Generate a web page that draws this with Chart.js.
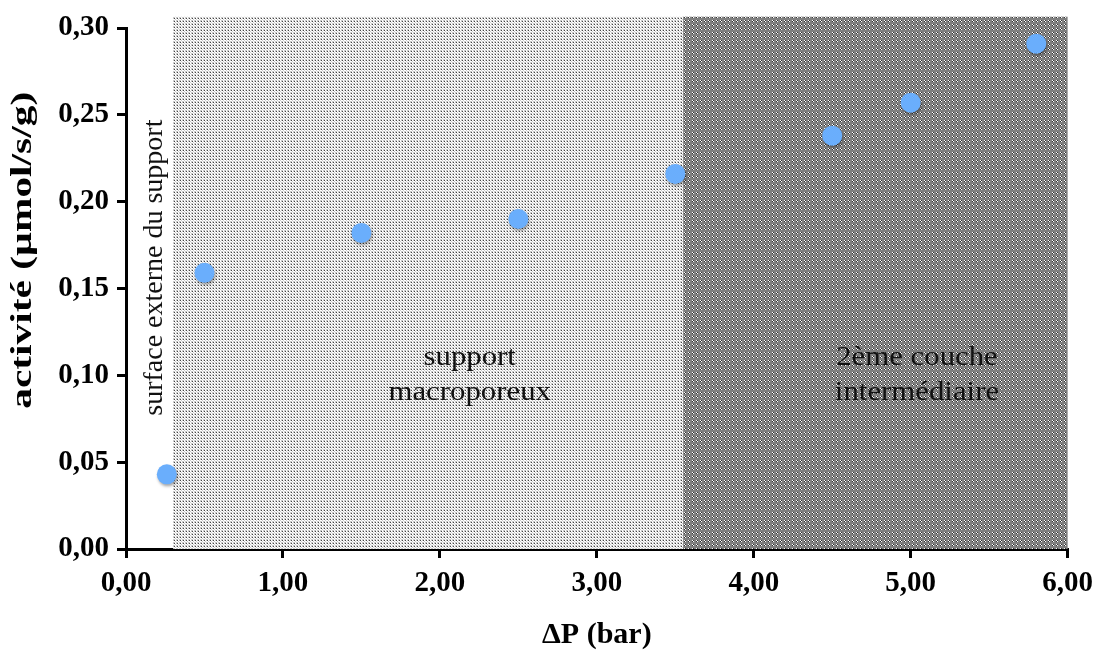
<!DOCTYPE html>
<html>
<head>
<meta charset="utf-8">
<script src="https://cdn.jsdelivr.net/npm/chart.js@4.4.0/dist/chart.umd.min.js"></script>
<style>
  html, body { margin: 0; padding: 0; background: #fff; }
  #wrap { width: 1101px; height: 657px; position: relative; }
</style>
</head>
<body>
<div id="wrap"><canvas id="activityChart"></canvas></div>
<script>
// data
const pressure = [0.26, 0.5, 1.5, 2.5, 3.5, 4.5, 5.0, 5.8];
const activity = [0.043, 0.159, 0.182, 0.190, 0.216, 0.238, 0.257, 0.291];
const xTicks = [0, 1, 2, 3, 4, 5, 6];
const yTicks = [0, 0.05, 0.10, 0.15, 0.20, 0.25, 0.30];

// shaded zones (x range in bar)
const zoneLight = [0.30, 3.55];
const zoneDark = [3.55, 6.0];
const zoneTop = 0.3065;

const yTitle = 'activité (µmol/s/g)';
const fr = v => v.toFixed(2).replace('.', ',');
const SERIF = '"Liberation Serif", "DejaVu Serif", serif';

// dithered fills like the original
function makePattern(size, base, dots) {
    const c = document.createElement('canvas');
    c.width = size; c.height = size;
    const g = c.getContext('2d');
    g.fillStyle = base;
    g.fillRect(0, 0, size, size);
    dots.forEach(d => { g.fillStyle = d[2]; g.fillRect(d[0], d[1], 1, 1); });
    return g.createPattern(c, 'repeat');
}

const ctx = document.getElementById('activityChart');
const lightFill = makePattern(3, '#c8c8c8', [[0, 0, '#444'], [1, 0, '#fff'], [0, 1, '#fff'], [2, 1, '#fff'], [1, 2, '#fff']]);
const darkFill = makePattern(4, '#808080', [[0, 0, '#fff'], [1, 1, '#fff'], [1, 0, '#333'], [0, 1, '#333']]);

function stretchedText(c, txt, px, py, sx) {
    c.save();
    c.translate(px, py);
    c.scale(sx, 1);
    c.fillText(txt, 0, 0);
    c.restore();
}

const zonesPlugin = {
    id: 'zones',
    beforeDatasetsDraw(chart) {
        const { ctx: c, scales: { x, y } } = chart;
        const top = y.getPixelForValue(zoneTop);
        const bottom = y.getPixelForValue(0);
        c.save();
        c.fillStyle = lightFill;
        c.fillRect(x.getPixelForValue(zoneLight[0]), top, x.getPixelForValue(zoneLight[1]) - x.getPixelForValue(zoneLight[0]), bottom - top);
        c.fillStyle = darkFill;
        c.fillRect(x.getPixelForValue(zoneDark[0]), top, x.getPixelForValue(zoneDark[1]) - x.getPixelForValue(zoneDark[0]), bottom - top);

        // zone labels
        c.fillStyle = '#111';
        c.font = '28px ' + SERIF;
        c.textAlign = 'center';
        c.textBaseline = 'middle';
        stretchedText(c, 'support', x.getPixelForValue(2.19), y.getPixelForValue(0.110), 1.1);
        stretchedText(c, 'macroporeux', x.getPixelForValue(2.19), y.getPixelForValue(0.090), 1.1);
        stretchedText(c, '2ème couche', x.getPixelForValue(5.04), y.getPixelForValue(0.110), 1.1);
        stretchedText(c, 'intermédiaire', x.getPixelForValue(5.04), y.getPixelForValue(0.090), 1.1);
        c.translate(x.getPixelForValue(0.18), y.getPixelForValue(0.162));
        c.rotate(-Math.PI / 2);
        c.fillText('surface externe du support', 0, 0);
        c.restore();
    },
    beforeDatasetDraw(chart) {
        const c = chart.ctx;
        c.save();
        c.shadowColor = 'rgba(0,0,0,0.35)';
        c.shadowBlur = 3;
        c.shadowOffsetX = 1;
        c.shadowOffsetY = 2;
    },
    afterDatasetDraw(chart) {
        chart.ctx.restore();
    },
    afterDraw(chart) {
        // y axis title, drawn long like in the source picture
        const { ctx: c, scales: { y } } = chart;
        c.save();
        c.fillStyle = '#000';
        c.font = 'bold 30px ' + SERIF;
        c.textAlign = 'center';
        c.textBaseline = 'middle';
        c.translate(23, y.getPixelForValue(0.172));
        c.rotate(-Math.PI / 2);
        c.scale(1.38, 1);
        c.fillText(yTitle, 0, 0);
        c.restore();
    }
};

new Chart(ctx, {
    type: 'scatter',
    data: {
        datasets: [{
            data: pressure.map((p, i) => ({ x: p, y: activity[i] })),
            backgroundColor: '#6aaefc',
            borderColor: '#6aaefc',
            pointRadius: 10,
            borderWidth: 0
        }]
    },
    options: {
        responsive: true,
        maintainAspectRatio: false,
        animation: false,
        layout: { padding: { top: 28, right: 32 } },
        plugins: { legend: { display: false }, tooltip: { enabled: false } },
        scales: {
            x: {
                type: 'linear',
                min: 0, max: 6,
                afterBuildTicks: s => { s.ticks = xTicks.map(v => ({ value: v })); },
                afterFit: s => { s.height = 108; },
                border: { color: '#000', width: 3 },
                grid: { drawOnChartArea: false, color: '#000', lineWidth: 3, tickLength: 9 },
                ticks: {
                    color: '#000', padding: 8,
                    font: { family: SERIF, size: 29, weight: 'bold' },
                    callback: v => fr(v)
                },
                title: {
                    display: true, text: 'ΔP (bar)', color: '#000',
                    font: { family: SERIF, size: 30, weight: 'bold' },
                    padding: { top: 2 }
                }
            },
            y: {
                min: 0, max: 0.30,
                afterBuildTicks: s => { s.ticks = yTicks.map(v => ({ value: v })); },
                afterFit: s => { s.width = 126; },
                border: { color: '#000', width: 3 },
                grid: { drawOnChartArea: false, color: '#000', lineWidth: 3, tickLength: 9 },
                ticks: {
                    color: '#000', padding: 8,
                    font: { family: SERIF, size: 29, weight: 'bold' },
                    callback: v => fr(v)
                },
                title: { display: false }
            }
        }
    },
    plugins: [zonesPlugin]
});
</script>
</body>
</html>
